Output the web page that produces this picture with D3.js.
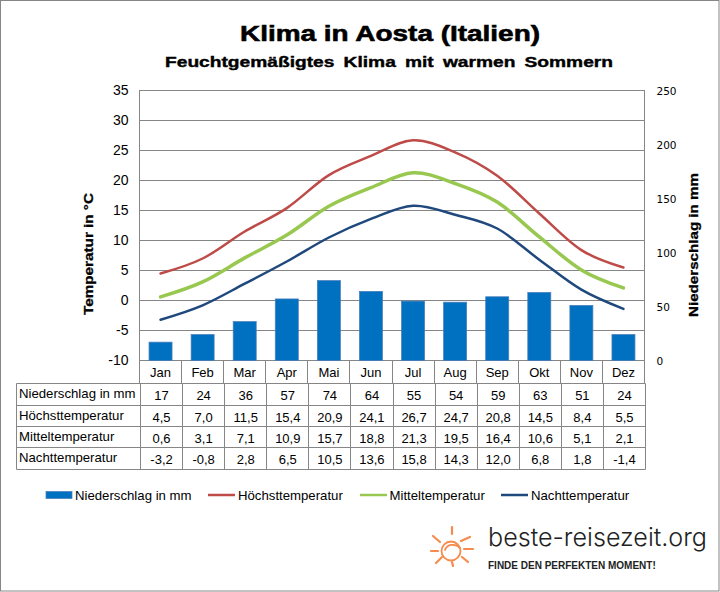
<!DOCTYPE html>
<html>
<head>
<meta charset="utf-8">
<style>
  html, body { margin: 0; padding: 0; background: #fff; }
  svg { display: block; }
  text { font-family: "Liberation Sans", Arial, sans-serif; fill: #000; }
  .domain { display: none; }
  .grid line { stroke: #868686; }
</style>
</head>
<body>
<svg id="chart" width="720" height="592"></svg>
<script src="https://cdn.jsdelivr.net/npm/d3@7"></script>
<script>
const months = ['Jan', 'Feb', 'Mar', 'Apr', 'Mai', 'Jun', 'Jul', 'Aug', 'Sep', 'Okt', 'Nov', 'Dez'];
const precipitation = [17, 24, 36, 57, 74, 64, 55, 54, 59, 63, 51, 24];
const highTemp = [4.5, 7.0, 11.5, 15.4, 20.9, 24.1, 26.7, 24.7, 20.8, 14.5, 8.4, 5.5];
const meanTemp = [0.6, 3.1, 7.1, 10.9, 15.7, 18.8, 21.3, 19.5, 16.4, 10.6, 5.1, 2.1];
const nightTemp = [-3.2, -0.8, 2.8, 6.5, 10.5, 13.6, 15.8, 14.3, 12.0, 6.8, 1.8, -1.4];
const tempTicks = [-10, -5, 0, 5, 10, 15, 20, 25, 30, 35];
const rainTicks = [0, 50, 100, 150, 200, 250];

const svg = d3.select('#chart');
const plotLeft = 139.5;
const plotRight = 644.5;
const plotTop = 90.5;
const plotBottom = 360.5;

const x = d3.scaleBand().domain(months).range([plotLeft, plotRight]);
const yTemp = d3.scaleLinear().domain([-10, 35]).range([plotBottom, plotTop]);
const yRain = d3.scaleLinear().domain([0, 250]).range([plotBottom, plotTop]);

// Outer frame
svg.append('rect')
  .attr('x', 0.5).attr('y', 0.5)
  .attr('width', 718.5).attr('height', 590.5)
  .attr('fill', '#fff')
  .attr('stroke', '#868686');

// Headings are stretched wide in the original, so fit them with textLength
const fittedText = (label, size, length, weight) => svg.append('text')
  .attr('text-anchor', 'middle')
  .attr('font-size', size)
  .attr('font-weight', 'bold')
  .attr('textLength', length)
  .attr('lengthAdjust', 'spacingAndGlyphs')
  .style('stroke', '#000')
  .style('stroke-width', weight)
  .text(label);

fittedText('Klima in Aosta (Italien)', 22.5, 300, 0.6).attr('x', 390).attr('y', 41);
fittedText('Feuchtgemäßigtes  Klima mit warmen Sommern', 15, 448, 0.4)
  .attr('x', 389).attr('y', 67)
  .attr('word-spacing', 3);
fittedText('Temperatur in °C', 13, 122, 0.3).attr('transform', 'translate(93,254) rotate(-90)');
fittedText('Niederschlag in mm', 13, 144, 0.3).attr('transform', 'translate(698,245) rotate(-90)');

// Grid and left axis
const gridAxis = svg.append('g')
  .attr('class', 'grid')
  .attr('transform', `translate(${plotLeft},0)`)
  .call(d3.axisLeft(yTemp)
    .offset(0)
    .tickValues(tempTicks)
    .tickFormat(d => String(d))
    .tickSize(-(plotRight - plotLeft))
    .tickPadding(11));
gridAxis.selectAll('text').attr('font-size', 14).attr('font-family', null);

svg.append('rect')
  .attr('x', plotLeft).attr('y', plotTop)
  .attr('width', plotRight - plotLeft).attr('height', plotBottom - plotTop)
  .attr('fill', 'none')
  .attr('stroke', '#868686');

// Right axis
const rainAxis = svg.append('g')
  .attr('transform', `translate(${plotRight},1)`)
  .call(d3.axisRight(yRain).offset(0).tickValues(rainTicks).tickSize(0).tickPadding(12));
rainAxis.selectAll('text')
  .style('font-family', '"DejaVu Sans", sans-serif')
  .attr('font-size', 10.5);

// Bars
const barWidth = 23;
svg.append('g').selectAll('rect')
  .data(precipitation)
  .enter()
  .append('rect')
  .attr('x', (d, i) => x(months[i]) + (x.bandwidth() - barWidth) / 2)
  .attr('y', d => yRain(d))
  .attr('width', barWidth)
  .attr('height', d => plotBottom - yRain(d))
  .attr('fill', '#0070c0')
  .attr('stroke', '#4a7ebb')
  .attr('stroke-width', 0.75);

// Temperature lines
const line = d3.line()
  .x((d, i) => x(months[i]) + x.bandwidth() / 2)
  .y(d => yTemp(d))
  .curve(d3.curveCardinal.tension(0));

const series = [
  { name: 'Niederschlag in mm', bar: true, color: '#0070c0', lx: 46, tx: 75 },
  { name: 'Höchsttemperatur', values: highTemp, color: '#be4b48', width: 2.5, lx: 208, tx: 238 },
  { name: 'Mitteltemperatur', values: meanTemp, color: '#98c850', width: 3.5, lx: 360, tx: 389.5 },
  { name: 'Nachttemperatur', values: nightTemp, color: '#1f497d', width: 2.5, lx: 501, tx: 531 },
];

series.filter(s => s.values).forEach((s) => {
  svg.append('path')
    .attr('d', line(s.values))
    .attr('fill', 'none')
    .attr('stroke', s.color)
    .attr('stroke-width', s.width)
    .attr('stroke-linecap', 'round');
});

// Month row under the plot
svg.append('g').selectAll('text')
  .data(months)
  .enter()
  .append('text')
  .attr('x', d => x(d) + x.bandwidth() / 2)
  .attr('y', 377)
  .attr('text-anchor', 'middle')
  .attr('font-size', 13)
  .text(d => d);

const gridColor = '#868686';
months.concat(['end']).forEach((m) => {
  const cx = m === 'end' ? plotRight : Math.round(x(m) - 0.5) + 0.5;
  svg.append('line')
    .attr('x1', cx).attr('x2', cx)
    .attr('y1', plotBottom).attr('y2', 383.5)
    .attr('stroke', gridColor);
});

// Data table
const fmt = v => v.toFixed(1).replace('.', ',');
const rows = [
  { label: 'Niederschlag in mm', cells: precipitation.map(String) },
  { label: 'Höchsttemperatur', cells: highTemp.map(fmt) },
  { label: 'Mitteltemperatur', cells: meanTemp.map(fmt) },
  { label: 'Nachttemperatur', cells: nightTemp.map(fmt) },
];
const rowLines = [383.5, 405.5, 426.5, 447.5, 469.5];
const tableLeft = 16.5;

rowLines.forEach((ry) => {
  svg.append('line')
    .attr('x1', tableLeft).attr('x2', plotRight + 1)
    .attr('y1', ry).attr('y2', ry)
    .attr('stroke', gridColor);
});
svg.append('line')
  .attr('x1', tableLeft).attr('x2', tableLeft)
  .attr('y1', rowLines[0]).attr('y2', rowLines[4])
  .attr('stroke', gridColor);
months.concat(['end']).forEach((m) => {
  const cx = m === 'end' ? plotRight + 1 : Math.round(x(m) - 0.5) + 1.5;
  svg.append('line')
    .attr('x1', cx).attr('x2', cx)
    .attr('y1', rowLines[0]).attr('y2', rowLines[4])
    .attr('stroke', gridColor);
});

rows.forEach((row, r) => {
  svg.append('text')
    .attr('x', 19).attr('y', rowLines[r] + 14)
    .attr('font-size', 13.2)
    .text(row.label);
  row.cells.forEach((c, i) => {
    svg.append('text')
      .attr('x', x(months[i]) + x.bandwidth() / 2 + 1)
      .attr('y', rowLines[r] + 16.5)
      .attr('text-anchor', 'middle')
      .attr('font-size', 13)
      .text(c);
  });
});

// Legend
series.forEach((s) => {
  if (s.bar) {
    svg.append('rect')
      .attr('x', s.lx).attr('y', 491.5)
      .attr('width', 26).attr('height', 7)
      .attr('fill', s.color)
      .attr('stroke', '#4a7ebb')
      .attr('stroke-width', 0.75);
  } else {
    svg.append('line')
      .attr('x1', s.lx).attr('x2', s.lx + 27)
      .attr('y1', 495).attr('y2', 495)
      .attr('stroke', s.color)
      .attr('stroke-width', 2.5);
  }
  svg.append('text')
    .attr('x', s.tx).attr('y', 500)
    .attr('font-size', 13.2)
    .text(s.name);
});

// Logo
const sun = svg.append('g')
  .attr('transform', 'translate(451,551)')
  .attr('fill', 'none')
  .attr('stroke', '#f58b4c')
  .attr('stroke-linecap', 'round');
sun.append('circle').attr('r', 9.5).attr('stroke-width', 1.8);
sun.append('path').attr('d', 'M-6,-1 Q-4,-7 3,-6 Q7,-6 9,-3').attr('stroke-width', 1.8);
const rays = [
  [1, -24, 1, -17], [10, -10, 19, -14], [13, -2, 22, -2], [11, 6, 17, 11],
  [1, 11, 2, 15], [-9, 6, -15, 12], [-20, 0, -13, 0], [-18, -15, -11, -9],
];
sun.selectAll('.ray')
  .data(rays)
  .enter()
  .append('line')
  .attr('class', 'ray')
  .attr('x1', d => d[0])
  .attr('y1', d => d[1])
  .attr('x2', d => d[2])
  .attr('y2', d => d[3])
  .attr('stroke-width', 2.2);

svg.append('text')
  .attr('x', 488).attr('y', 546)
  .attr('textLength', 219)
  .attr('lengthAdjust', 'spacingAndGlyphs')
  .style('font-family', 'Inter, Lato, sans-serif')
  .style('font-weight', 300)
  .attr('font-size', 25.5)
  .style('fill', '#222')
  .text('beste-reisezeit.org');
svg.append('text')
  .attr('x', 488).attr('y', 568.5)
  .attr('font-size', 10)
  .attr('font-weight', 'bold')
  .style('fill', '#222')
  .text('FINDE DEN PERFEKTEN MOMENT!');
</script>
</body>
</html>
